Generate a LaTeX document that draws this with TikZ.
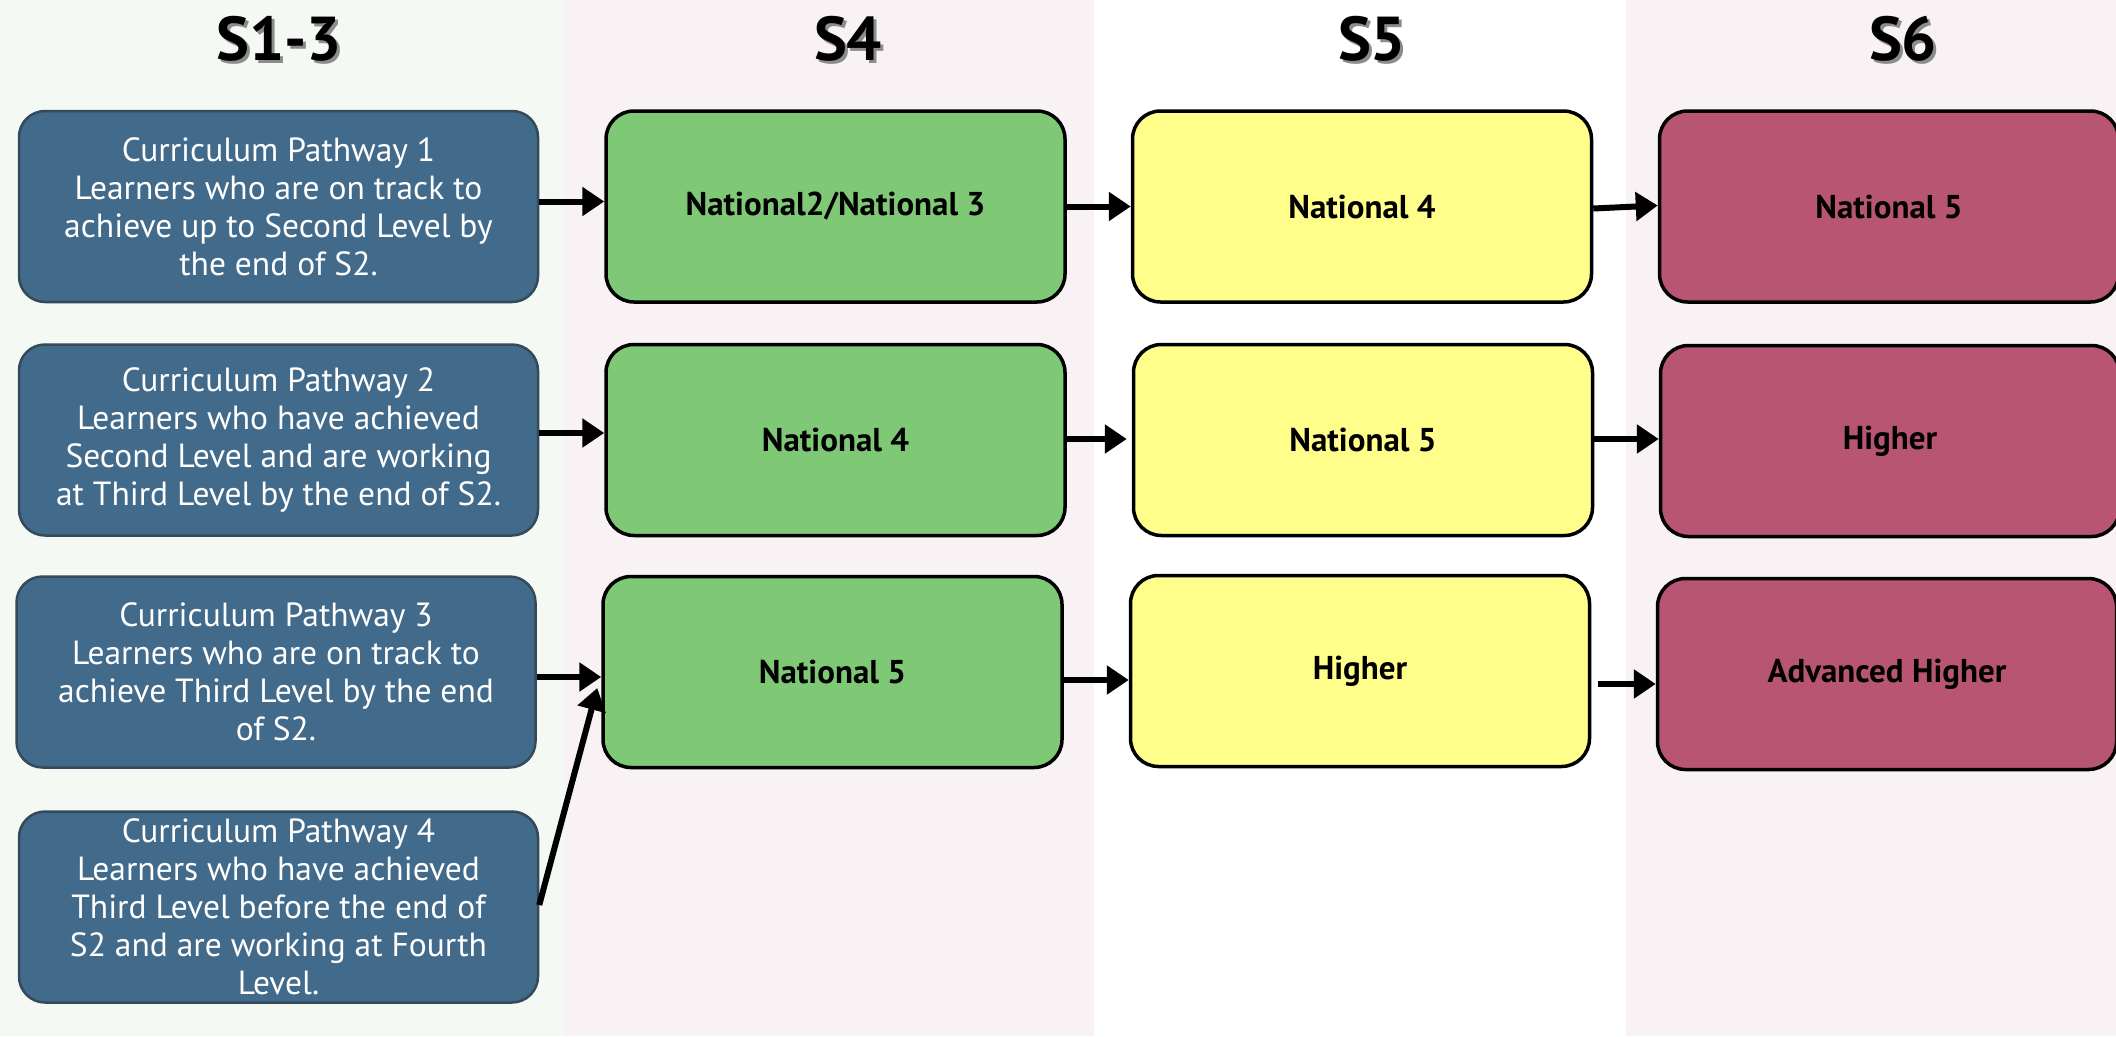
\documentclass[tikz,border=0pt]{standalone}
\usepackage{fontspec}
\setmainfont{PT Sans}
\usetikzlibrary{arrows.meta}
\definecolor{bgA}{HTML}{F4F9F4}
\definecolor{bgB}{HTML}{F8F2F4}
\definecolor{pathblue}{HTML}{426A8A}
\definecolor{pathedge}{HTML}{34495A}
\definecolor{s4green}{HTML}{7EC876}
\definecolor{s5yellow}{HTML}{FFFE8A}
\definecolor{s6red}{HTML}{B85573}
\tikzset{
  pathbox/.style={draw=pathedge, line width=2.5pt, fill=pathblue, rounded corners=26pt,
    minimum width=519pt, minimum height=191pt, inner sep=0pt, text=white,
    align=center, font=\fontsize{33.5}{38}\selectfont},
  levelbox/.style={draw=black, line width=3.5pt, rounded corners=28pt,
    minimum width=459pt, minimum height=191pt, inner sep=0pt, text=black,
    font=\fontsize{33}{38}\selectfont\bfseries},
  header/.style={font=\fontsize{62}{74}\selectfont\bfseries, text=black},
  headshadow/.style={font=\fontsize{62}{74}\selectfont\bfseries, text=black!45},
  flow/.style={line width=6pt, -{Triangle[length=22pt,width=28pt]}}
}
\begin{document}
\begin{tikzpicture}[x=1pt,y=-1pt]
\useasboundingbox (0,0) rectangle (2116,1036);
% column backgrounds
\fill[bgA] (0,0) rectangle (564,1036);
\fill[bgB] (564,0) rectangle (1094,1036);
\fill[white] (1094,0) rectangle (1626,1036);
\fill[bgB] (1626,0) rectangle (2116,1036);
% headers
\node[headshadow] (h1s) at (282,42) {S1-3};
\node[header] (h1) at (279,39) {S1-3};
\node[headshadow] (h2s) at (851,42) {S4};
\node[header] (h2) at (848,39) {S4};
\node[headshadow] (h3s) at (1375,42) {S5};
\node[header] (h3) at (1372,39) {S5};
\node[headshadow] (h4s) at (1906,42) {S6};
\node[header] (h4) at (1903,39) {S6};
% pathway boxes
\node[pathbox] (B1) at (278.5,206.5) {Curriculum Pathway 1\\Learners who are on track to\\achieve up to Second Level by\\the end of S2.};
\node[pathbox] (B2) at (278.5,440) {Curriculum Pathway 2\\Learners who have achieved\\Second Level and are working\\at Third Level by the end of S2.};
\node[pathbox] (B3) at (276,672) {Curriculum Pathway 3\\Learners who are on track to\\achieve Third Level by the end\\of S2.};
\node[pathbox] (B4) at (278.5,907) {Curriculum Pathway 4\\Learners who have achieved\\Third Level before the end of\\S2 and are working at Fourth\\Level.};
% S4
\node[levelbox, fill=s4green] (G1) at (835.5,206.5) {National2/National 3};
\node[levelbox, fill=s4green] (G2) at (835.5,440) {National 4};
\node[levelbox, fill=s4green] (G3) at (832.5,672) {National 5};
% S5
\node[levelbox, fill=s5yellow] (Y1) at (1362,206.5) {National 4};
\node[levelbox, fill=s5yellow] (Y2) at (1363,440) {National 5};
\node[levelbox, fill=s5yellow] (Y3) at (1360,671) {Higher};
% S6
\node[levelbox, fill=s6red] (R1) at (1889,206.5) {National 5};
\node[levelbox, fill=s6red] (R2) at (1890,441) {Higher};
\node[levelbox, fill=s6red] (R3) at (1887,674) {Advanced Higher};
% connectors
\draw[flow] ([yshift=5pt]B1.east) -- ([yshift=5pt]G1.west);
\draw[flow] (G1.east) -- (Y1.west);
\draw[flow] ([yshift=-2pt]Y1.east) -- ([yshift=1pt]R1.west);
\draw[flow] ([yshift=7pt]B2.east) -- ([yshift=7pt]G2.west);
\draw[flow] ([xshift=-3pt,yshift=1pt]G2.east) -- ([xshift=-5pt,yshift=1pt]Y2.west);
\draw[flow] ([yshift=1pt]Y2.east) -- ([yshift=2pt]R2.west);
\draw[flow] ([yshift=-5pt]B3.east) -- ([yshift=-5pt]G3.west);
\draw[flow] ([yshift=-8pt]G3.east) -- ([yshift=-9pt]Y3.west);
\draw[flow] ([xshift=7pt,yshift=-13pt]Y3.east) -- ([yshift=-10pt]R3.west);
\draw[flow] ([yshift=2pt]B4.east) -- ([xshift=-4pt,yshift=-16pt]G3.west);
\end{tikzpicture}
\end{document}
